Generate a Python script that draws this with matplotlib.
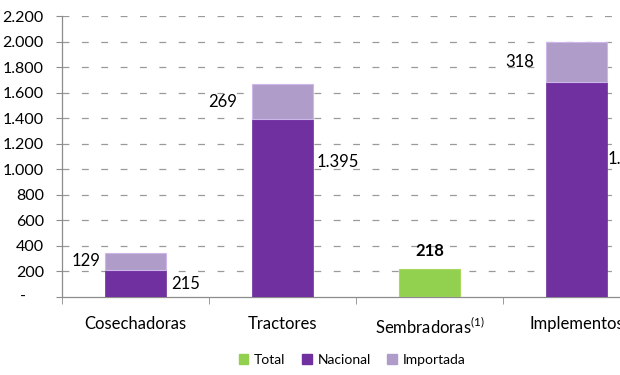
import matplotlib
matplotlib.use("Agg")
import matplotlib.pyplot as plt
from matplotlib.transforms import blended_transform_factory
from matplotlib.patches import Patch

categories = ["Cosechadoras", "Tractores", "Sembradoras$^{\\mathregular{(1)}}$", "Implementos"]
total = [0, 0, 218, 0]
nacional = [215, 1395, 0, 1682]
importada = [129, 269, 0, 318]
yticks = [0, 200, 400, 600, 800, 1000, 1200, 1400, 1600, 1800, 2000, 2200]

# layout for labels (pixel offsets and y anchors)
nac_label_y = [102, 1057, 1080]
nac_idx = [0, 1, 3]
nac_dx = [6, 4, 1]
imp_idx = [0, 1, 3]
imp_dx = [-5, -15, -12]

plt.rcParams['font.family'] = ['Lato', 'DejaVu Sans']
C_TOT = "#92D050"
C_NAC = "#7030A0"
C_IMP = "#B09CC8"
FS = 12

fig = plt.figure(figsize=(6.2, 3.75), dpi=100)
W, H = 620, 375
x0, x1 = 62, 650
y0, y1 = 297, 16
ax = fig.add_axes([x0 / W, (H - y0) / H, (x1 - x0) / W, (y0 - y1) / H])
ax.set_xlim(-0.5, 3.5)
ax.set_ylim(0, 2200)

xs = list(range(len(categories)))
bw = 0.41
ax.bar(xs, total, bw, color=C_TOT, edgecolor="#A8D860", linewidth=0.8, zorder=3)
ax.bar(xs, nacional, bw, color=C_NAC, edgecolor=C_NAC, linewidth=0.5, zorder=3)
ax.bar(xs, importada, bw, bottom=nacional, color=C_IMP, edgecolor="#CDB6EA", linewidth=0.8, zorder=3)

# grid
for t in yticks[1:]:
    ax.axhline(t, color="#9a9a9a", lw=0.9, ls=(0, (5.5, 10)), zorder=1)

for s in ["top", "right"]:
    ax.spines[s].set_visible(False)
for s in ["left", "bottom"]:
    ax.spines[s].set_color("#8c8c8c")
    ax.spines[s].set_linewidth(0.9)

ax.set_yticks(yticks)
ax.set_yticklabels(["" if v == 0 else f"{v:,}".replace(",", ".") for v in yticks], fontsize=11.5)
ax.tick_params(axis="y", length=4, color="#8c8c8c", pad=9)
ax.text(-(62 - 20) / (x1 - x0), 0, "-", transform=blended_transform_factory(ax.transAxes, ax.transData),
        fontsize=11.5, va="center")

ax.set_xticks(xs)
ax.set_xticklabels(categories, fontsize=FS)
ax.set_xticks([-0.5, 0.5, 1.5, 2.5, 3.5], minor=True)
ax.tick_params(axis="x", which="major", length=0, pad=14)
ax.tick_params(axis="x", which="minor", length=5, color="#8c8c8c")

# labels
for k, i in enumerate(imp_idx):
    yc = nacional[i] + importada[i] / 2
    ax.annotate(f"{importada[i]:,}".replace(",", "."), (xs[i] - bw / 2, yc),
                xytext=(imp_dx[k] * 0.72, 0), textcoords="offset points",
                ha="right", va="center", fontsize=FS, zorder=4)
for k, i in enumerate(nac_idx):
    ax.annotate(f"{nacional[i]:,}".replace(",", "."), (xs[i] + bw / 2, nac_label_y[k]),
                xytext=(nac_dx[k] * 0.72, 0), textcoords="offset points",
                ha="left", va="center", fontsize=FS, zorder=4, annotation_clip=False)
ax.annotate(f"{total[2]}", (xs[2], total[2]), xytext=(0, 13), textcoords="offset points",
            ha="center", va="center", fontsize=FS, fontweight="bold")

handles = [Patch(color=C_TOT, label="Total"), Patch(color=C_NAC, label="Nacional"),
           Patch(color=C_IMP, label="Importada")]
fig.legend(handles=handles, loc="center", bbox_to_anchor=(352 / W, 1 - 360 / H), ncol=3,
           frameon=False, fontsize=10, handlelength=0.7, handleheight=0.7, handletextpad=0.4,
           columnspacing=1.2)

fig.savefig("out.png", dpi=100)
